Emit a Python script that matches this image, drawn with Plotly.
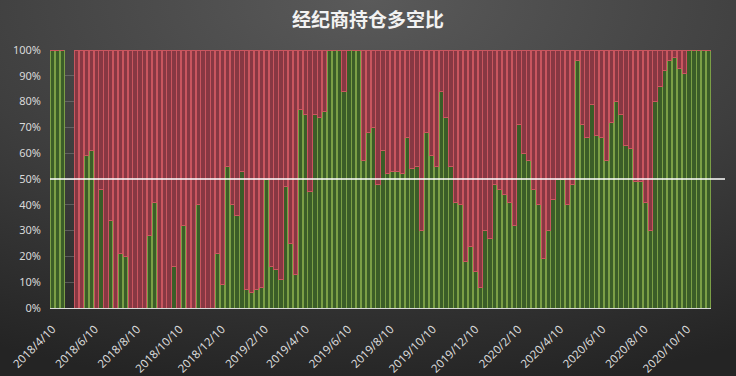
import base64
import pandas as pd
import plotly.graph_objects as go

# weekly observation dates (first report 2018/4/10)
start_date = "2018-04-10"
n_weeks = 136
dates = pd.date_range(start_date, periods=n_weeks, freq="7D")

# long share (%) per week, None = no report that week
long_pct = [
    100, 100, 100, None, None, 0, 0, 59, 61, 0,
    46, 0, 34, 0, 21, 20, 0, 0, 0, 0,
    28, 41, 0, 0, 0, 16, 0, 32, 0, 0,
    40, 0, 0, 0, 21, 9, 55, 40, 36, 53,
    7, 6, 7, 8, 50, 16, 15, 11, 47, 25,
    13, 77, 75, 45, 75, 74, 76, 100, 100, 100,
    84, 100, 100, 100, 57, 68, 70, 48, 61, 52,
    53, 53, 52, 66, 54, 55, 30, 68, 59, 55,
    84, 74, 55, 41, 40, 18, 24, 14, 8, 30,
    27, 48, 46, 44, 41, 32, 71, 60, 57, 46,
    40, 19, 30, 42, 50, 50, 40, 48, 96, 71,
    66, 79, 67, 66, 57, 72, 80, 75, 63, 62,
    49, 49, 41, 30, 80, 86, 92, 96, 97, 93,
    91, 100, 100, 100, 100, 100,
]
short_pct = [None if v is None else 100 - v for v in long_pct]

tick_dates = ["2018-04-10", "2018-06-10", "2018-08-10", "2018-10-10", "2018-12-10",
              "2019-02-10", "2019-04-10", "2019-06-10", "2019-08-10", "2019-10-10",
              "2019-12-10", "2020-02-10", "2020-04-10", "2020-06-10", "2020-08-10",
              "2020-10-10"]
tick_labels = ["2018/4/10", "2018/6/10", "2018/8/10", "2018/10/10", "2018/12/10",
               "2019/2/10", "2019/4/10", "2019/6/10", "2019/8/10", "2019/10/10",
               "2019/12/10", "2020/2/10", "2020/4/10", "2020/6/10", "2020/8/10",
               "2020/10/10"]
title_text = "经纪商持仓多空比"

W, H = 736, 376
L, R, T, B = 50, 25, 50, 68
pw, ph = W - L - R, H - T - B

fig = go.Figure()
fig.add_trace(go.Bar(
    x=dates, y=[None if v is None else v / 100 for v in long_pct], name="多",
    marker=dict(color="#3b5d28", line=dict(color="#7b9f46", width=1)),
))
fig.add_trace(go.Bar(
    x=dates, y=[None if v is None else v / 100 for v in short_pct], name="空",
    marker=dict(color="#873843", line=dict(color="#c9565f", width=1)),
))

svg = (f'<svg xmlns="http://www.w3.org/2000/svg" width="{W}" height="{H}">'
       '<defs><radialGradient id="g" cx="50%" cy="0%" r="105%" fx="50%" fy="0%">'
       '<stop offset="0" stop-color="#5a5a5a"/><stop offset="0.55" stop-color="#3e3e3e"/>'
       '<stop offset="1" stop-color="#242424"/></radialGradient></defs>'
       f'<rect width="{W}" height="{H}" fill="url(#g)"/></svg>')
src = "data:image/svg+xml;base64," + base64.b64encode(svg.encode()).decode()

x0 = dates[0] - pd.Timedelta(days=3.5)
x1 = dates[-1] + pd.Timedelta(days=3.5)

fig.update_layout(
    width=W, height=H,
    margin=dict(l=L, r=R, t=T, b=B, autoexpand=False),
    barmode="stack", bargap=0.12,
    showlegend=False,
    paper_bgcolor="#333333", plot_bgcolor="rgba(0,0,0,0)",
    title=dict(text=f"<b>{title_text}</b>", x=0.5, xanchor="center",
               y=1 - 20 / H, yanchor="middle", yref="container",
               font=dict(family="Noto Sans CJK SC", size=19, color="#f2f2f2")),
    font=dict(family="Noto Sans, DejaVu Sans", color="#d9d9d9", size=11),
    xaxis=dict(type="date", range=[x0, x1], tickvals=tick_dates, ticktext=tick_labels,
               tickangle=-45, showgrid=False, zeroline=False, showline=True,
               linecolor="#d9d9d9", linewidth=1, ticks="", ticklabelstandoff=9,
               automargin=False, tickfont=dict(size=11.5, color="#d9d9d9")),
    yaxis=dict(range=[0, 1], dtick=0.1, tickformat=".0%", showgrid=True,
               gridcolor="rgba(140,140,140,0.45)", gridwidth=1, zeroline=False,
               showline=False, ticklabelstandoff=8, automargin=False,
               tickfont=dict(size=11, color="#d9d9d9")),
    images=[dict(source=src, xref="paper", yref="paper", x=-L / pw, y=1 + T / ph,
                 sizex=W / pw, sizey=H / ph, sizing="stretch", layer="below", xanchor="left",
                 yanchor="top")],
    shapes=[dict(type="line", xref="paper", yref="y", x0=0, x1=(725 - L) / pw, y0=0.5, y1=0.5,
                 line=dict(color="#ffffff", width=1.5))],
)

fig.write_html("out.html", config={"displayModeBar": False},
               post_script="document.body.style.margin='0';"
               "document.body.style.overflow='hidden';")
